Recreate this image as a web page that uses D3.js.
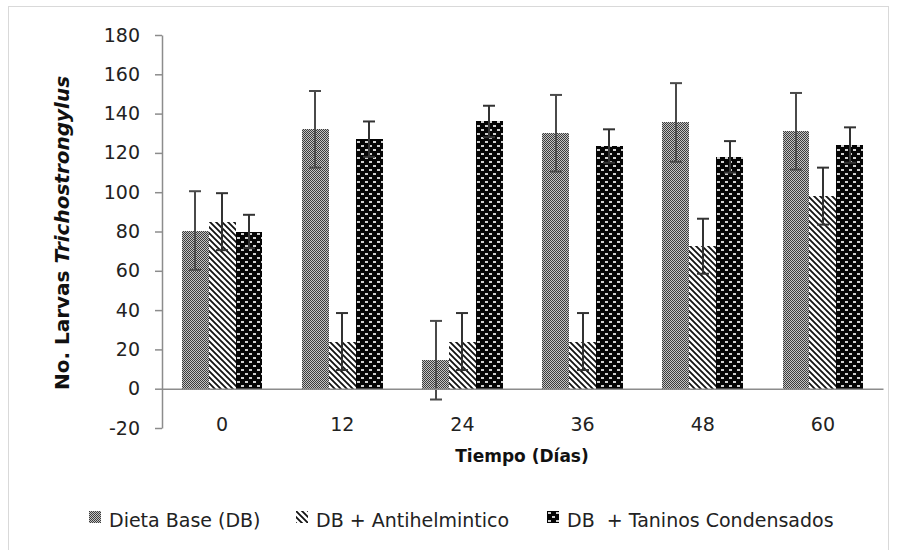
<!DOCTYPE html>
<html>
<head>
<meta charset="utf-8">
<script src="https://cdn.jsdelivr.net/npm/d3@7"></script>
<style>
  body { margin: 0; background: #fff; }
  text { font-family: "DejaVu Sans", sans-serif; }
</style>
</head>
<body>
<div id="chart"></div>
<script>
// values
const days = ["0", "12", "24", "36", "48", "60"];
const seriesNames = ["Dieta Base (DB)", "DB + Antihelmintico", "DB  + Taninos Condensados"];
const dietaBase = [80.5, 132, 14.5, 130, 135.5, 131];
const dietaBaseErr = [20, 19.5, 20, 19.5, 20, 19.5];
const antihelmintico = [85, 24, 24, 24, 72.5, 98];
const antihelminticoErr = [14.5, 14.5, 14.5, 14.5, 14, 14.5];
const taninos = [80, 127, 136, 123.5, 118, 124];
const taninosErr = [8.5, 9, 8, 8.5, 8, 9];
const yTicks = [-20, 0, 20, 40, 60, 80, 100, 120, 140, 160, 180];

const series = [
  {name: seriesNames[0], values: dietaBase, err: dietaBaseErr, fill: "url(#pDB)", errColor: "#4a4a4a"},
  {name: seriesNames[1], values: antihelmintico, err: antihelminticoErr, fill: "url(#pAH)", errColor: "#333"},
  {name: seriesNames[2], values: taninos, err: taninosErr, fill: "url(#pTC)", errColor: "#333"}
];

const W = 897, H = 550;
const svg = d3.select("#chart").append("svg")
    .attr("width", W)
    .attr("height", H);

// fill patterns (Excel style)
const defs = svg.append("defs");

const pDB = defs.append("pattern").attr("id", "pDB")
    .attr("patternUnits", "userSpaceOnUse").attr("width", 2).attr("height", 2);
pDB.append("rect").attr("width", 2).attr("height", 2).attr("fill", "#c4c4c4");
pDB.append("rect").attr("width", 1).attr("height", 1).attr("fill", "#3c3c3c");
pDB.append("rect").attr("x", 1).attr("y", 1).attr("width", 1).attr("height", 1).attr("fill", "#3c3c3c");

const pAH = defs.append("pattern").attr("id", "pAH")
    .attr("patternUnits", "userSpaceOnUse").attr("width", 6).attr("height", 6);
pAH.append("rect").attr("width", 6).attr("height", 6).attr("fill", "#fff");
pAH.append("path")
    .attr("d", "M-1,-1L7,7M-1,5L1,7M5,-1L7,1")
    .attr("stroke", "#111").attr("stroke-width", 1.8);

const pTC = defs.append("pattern").attr("id", "pTC")
    .attr("patternUnits", "userSpaceOnUse").attr("width", 8).attr("height", 8);
pTC.append("rect").attr("width", 8).attr("height", 8).attr("fill", "#050505");
pTC.append("rect").attr("x", 1).attr("y", 1).attr("width", 3).attr("height", 2).attr("fill", "#d0d0d0");
pTC.append("rect").attr("x", 5).attr("y", 5).attr("width", 3).attr("height", 2).attr("fill", "#d0d0d0");

// chart border
svg.append("rect")
    .attr("x", 8.5).attr("y", 6.5)
    .attr("width", 880).attr("height", 560)
    .attr("fill", "none").attr("stroke", "#d9d9d9");

const x0 = d3.scaleBand()
    .domain(days)
    .range([162, 883])
    .paddingInner(0.33)
    .paddingOuter(0.165);

const x1 = d3.scaleBand()
    .domain(d3.range(series.length))
    .range([0, x0.bandwidth()]);

const y = d3.scaleLinear()
    .domain([-20, 180])
    .range([428, 35]);

// y axis
const yAxis = svg.append("g")
    .attr("transform", "translate(162,0)")
    .call(d3.axisLeft(y).tickValues(yTicks).tickFormat(d => String(d))
        .tickSize(7).tickSizeOuter(0).tickPadding(15));
yAxis.selectAll("path, line").attr("stroke", "#8c8c8c").attr("stroke-width", 1.5);
yAxis.selectAll("text")
    .attr("font-family", "DejaVu Sans").attr("font-size", 19).attr("fill", "#222");

// bars (snapped to whole pixels so the fill patterns stay crisp)
const px = v => Math.round(v);
const rows = days.map((d, i) => series.map((s, k) => ({
  day: d, k, v: s.values[i], e: s.err[i], fill: s.fill, errColor: s.errColor
}))).flat();

svg.append("g").selectAll("rect")
    .data(rows)
    .join("rect")
    .attr("x", d => px(x0(d.day) + x1(d.k)))
    .attr("width", d => px(x0(d.day) + x1(d.k) + x1.bandwidth()) - px(x0(d.day) + x1(d.k)))
    .attr("y", d => px(y(Math.max(0, d.v))))
    .attr("height", d => px(y(0)) - px(y(Math.max(0, d.v))))
    .attr("fill", d => d.fill);

// error bars
const cx = d => px(x0(d.day) + x1(d.k) + x1.bandwidth() / 2);
const eb = svg.append("g").selectAll("g")
    .data(rows)
    .join("g")
    .attr("stroke", d => d.errColor)
    .attr("stroke-width", 2);

eb.append("line")
    .attr("x1", cx).attr("x2", cx)
    .attr("y1", d => y(d.v + d.e))
    .attr("y2", d => y(d.v - d.e));
eb.append("line")
    .attr("x1", d => cx(d) - 6).attr("x2", d => cx(d) + 6)
    .attr("y1", d => y(d.v + d.e))
    .attr("y2", d => y(d.v + d.e));
eb.append("line")
    .attr("x1", d => cx(d) - 6).attr("x2", d => cx(d) + 6)
    .attr("y1", d => y(d.v - d.e))
    .attr("y2", d => y(d.v - d.e));

// category axis at zero, labels at the bottom
const xAxis = svg.append("g")
    .attr("transform", `translate(0,${y(0)})`)
    .call(d3.axisBottom(x0).tickSize(0).tickSizeOuter(0).tickPadding(29));
xAxis.select(".domain").attr("stroke", "#8c8c8c").attr("stroke-width", 1.5);
xAxis.selectAll("text")
    .attr("font-family", "DejaVu Sans").attr("font-size", 19).attr("fill", "#222");

// axis titles
svg.append("text")
    .attr("x", 522).attr("y", 462)
    .attr("text-anchor", "middle")
    .attr("font-family", "DejaVu Sans Condensed")
    .attr("font-weight", "bold")
    .attr("font-size", 17)
    .attr("fill", "#111")
    .text("Tiempo (Días)");

const yt = svg.append("text")
    .attr("transform", "translate(69,233) rotate(-90)")
    .attr("text-anchor", "middle")
    .attr("font-family", "DejaVu Sans Condensed")
    .attr("font-weight", "bold")
    .attr("font-size", 20)
    .attr("fill", "#111");
yt.append("tspan").text("No. Larvas ");
yt.append("tspan").attr("font-style", "italic").text("Trichostrongylus");

// legend
const legendX = [89, 296, 547];
const legend = svg.append("g").selectAll("g")
    .data(series)
    .join("g")
    .attr("transform", (d, i) => `translate(${legendX[i]},511)`);
legend.append("rect")
    .attr("width", 12).attr("height", 12)
    .attr("fill", d => d.fill);
legend.append("text")
    .attr("x", 20).attr("y", 16)
    .attr("font-family", "DejaVu Sans")
    .attr("font-size", 19)
    .attr("fill", "#222")
    .style("white-space", "pre")
    .text(d => d.name);
</script>
</body>
</html>
